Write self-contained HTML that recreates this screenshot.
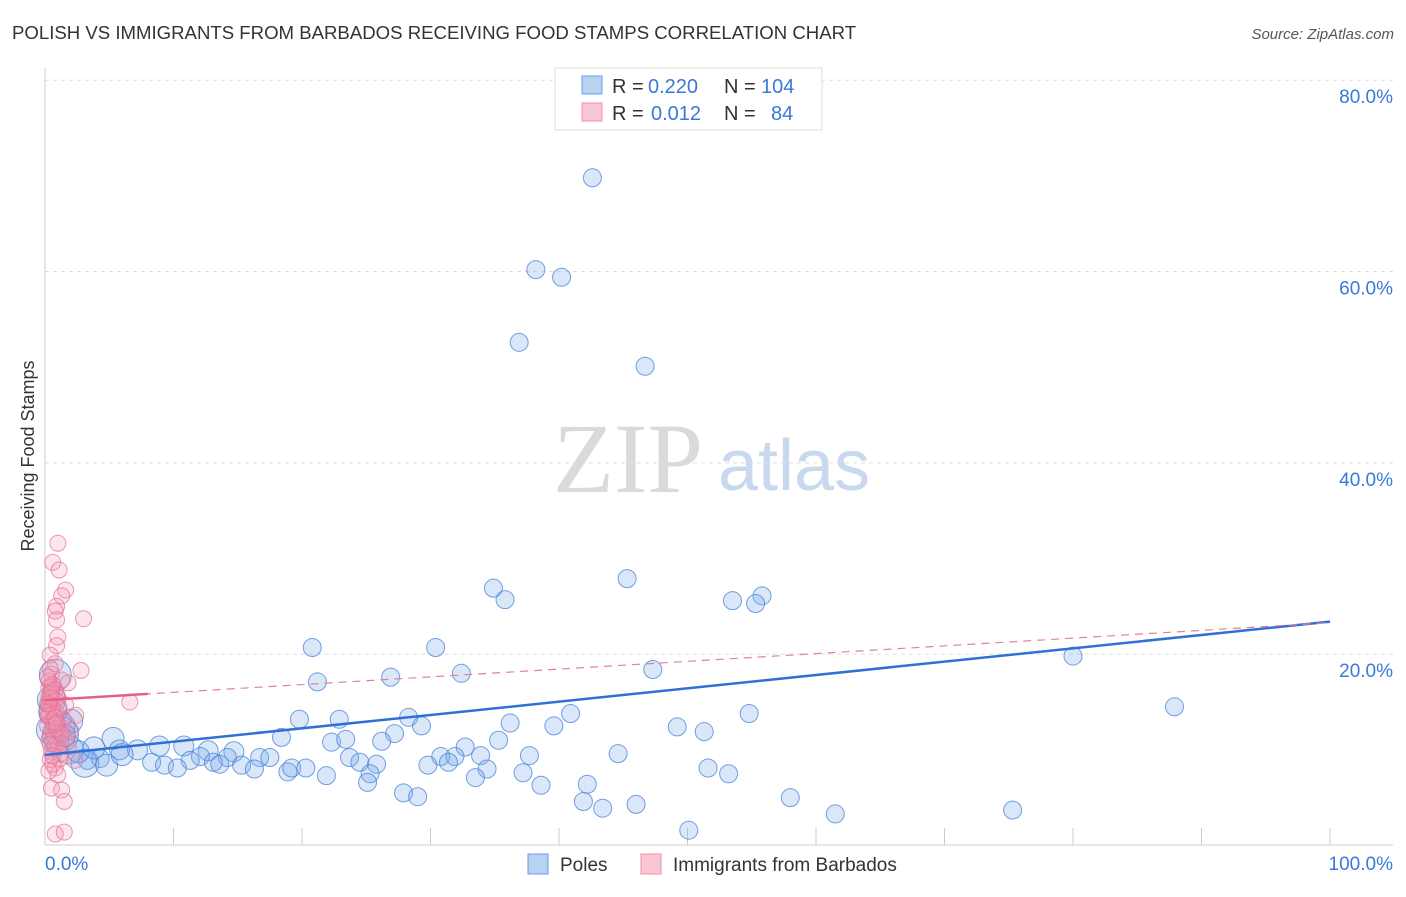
<!DOCTYPE html>
<html><head><meta charset="utf-8"><style>
body{margin:0;background:#fff;font-family:"Liberation Sans",sans-serif;}
svg text{font-family:"Liberation Sans",sans-serif;}
</style></head><body>
<svg id="chart" width="1406" height="892" xmlns="http://www.w3.org/2000/svg">
<text x="12" y="39" font-size="18.6" fill="#333">POLISH VS IMMIGRANTS FROM BARBADOS RECEIVING FOOD STAMPS CORRELATION CHART</text>
<text x="1394" y="39" font-size="15" fill="#555" text-anchor="end" font-style="italic">Source: ZipAtlas.com</text>
<text x="553" y="492" font-size="100" fill="#dadada" font-family="Liberation Serif" style="font-family:'Liberation Serif',serif">ZIP</text>
<text x="718" y="490" font-size="72" fill="#c8d8ee">atlas</text>
<text transform="translate(34,456) rotate(-90)" font-size="18" fill="#333" text-anchor="middle">Receiving Food Stamps</text>
<g id="grid"></g><g id="axes"></g><g id="points"></g><g id="trends"></g>
<g>
<rect x="555" y="68" width="267" height="62" fill="#fff" stroke="#ddd"/>
<rect x="582" y="76" width="20" height="18" fill="#b8d2f4" stroke="#6a9ee0"/>
<text x="612" y="93" font-size="20" fill="#333">R =</text>
<text x="648" y="93" font-size="20" fill="#3a78d8">0.220</text>
<text x="724" y="93" font-size="20" fill="#333">N =</text>
<text x="761" y="93" font-size="20" fill="#3a78d8">104</text>
<rect x="582" y="103" width="20" height="18" fill="#f9c6d4" stroke="#e890aa"/>
<text x="612" y="120" font-size="20" fill="#333">R =</text>
<text x="651" y="120" font-size="20" fill="#3a78d8">0.012</text>
<text x="724" y="120" font-size="20" fill="#333">N =</text>
<text x="771" y="120" font-size="20" fill="#3a78d8">84</text>
</g>
<g>
<rect x="528" y="854" width="20" height="20" fill="#b8d2f4" stroke="#6a9ee0"/>
<text x="560" y="871" font-size="19" fill="#333">Poles</text>
<rect x="641" y="854" width="20" height="20" fill="#f9c6d4" stroke="#e890aa"/>
<text x="673" y="871" font-size="19" fill="#333">Immigrants from Barbados</text>
</g>
</svg>
<script>
const yTicks=[20,40,60,80];
const xTickLabels=["0.0%","100.0%"];
const polesX=[42.6,38.2,40.2,36.9,46.7,45.3,34.9,35.8,53.5,55.8,55.3,20.8,30.4,80.0,21.2,26.9,32.4,47.3,87.9,54.8,40.9,28.3,19.8,22.9,29.3,36.2,39.6,49.2,51.3,18.4,27.2,22.3,23.4,26.2,35.3,32.7,5.3,8.9,10.8,12.7,14.7,5.8,7.2,30.8,31.9,33.9,37.7,44.6,23.7,24.5,25.8,16.7,17.5,14.2,12.1,11.3,3.3,4.3,8.3,9.3,10.3,13.1,13.6,15.3,16.3,18.9,19.2,20.3,21.9,25.3,25.1,29.8,31.4,34.4,33.5,37.2,38.6,42.2,51.6,53.2,27.9,29.0,41.9,43.4,46.0,58.0,61.5,75.3,50.1,1.2,1.9,3.1,4.8,0.5,0.8,0.5,2.0,6.0,0.6,1.4,2.6,0.9,1.5,3.8];
const polesY=[69.8,60.2,59.4,52.6,50.1,27.9,26.9,25.7,25.6,26.1,25.3,20.7,20.7,19.8,17.1,17.6,18.0,18.4,14.5,13.8,13.8,13.4,13.2,13.2,12.5,12.8,12.5,12.4,11.9,11.3,11.7,10.8,11.1,10.9,11.0,10.3,11.2,10.4,10.4,9.9,9.8,10.0,10.0,9.3,9.3,9.4,9.4,9.6,9.2,8.7,8.5,9.2,9.2,9.2,9.3,8.9,8.9,9.1,8.7,8.4,8.1,8.7,8.5,8.4,8.0,7.7,8.1,8.1,7.3,7.5,6.6,8.4,8.7,8.0,7.1,7.6,6.3,6.4,8.1,7.5,5.5,5.1,4.6,3.9,4.3,5.0,3.3,3.7,1.6,11.6,10.0,8.6,8.4,12.1,17.8,15.2,13.0,9.5,14.0,12.5,9.8,10.8,11.5,10.2];
const polesR=[9,9,9,9,9,9,9,9,9,9,9,9,9,9,9,9,9,9,9,9,9,9,9,9,9,9,9,9,9,9,9,9,9,9,9,9,11,10,10,10,10,10,10,9,9,9,9,9,9,9,9,9,9,9,9,9,9,9,9,9,9,9,9,9,9,9,9,9,9,9,9,9,9,9,9,9,9,9,9,9,9,9,9,9,9,9,9,9,9,18,14,14,11,15,16,14,12,11,14,12,11,12,11,11];
const barbX=[1.0,0.6,1.1,1.6,1.3,0.9,0.8,0.9,3.0,1.0,0.9,0.4,2.8,0.8,0.5,1.3,1.8,0.8,1.0,6.6,1.6,2.4,0.4,0.8,1.3,0.4,1.0,1.8,0.5,1.2,2.3,0.8,1.0,0.5,1.3,1.5,0.8,1.5,0.4,0.3,0.6,0.2,0.7,1.1,0.3,0.5,0.9,0.2,1.4,0.6,0.3,0.8,1.2,0.4,0.6,0.3,0.5,0.9,0.2,0.7,1.0,0.4,0.6,0.3,2.0,1.7,0.5,0.8,0.2,0.6,0.9,0.4,1.1,0.3,0.7,0.5,0.2,0.8,1.3,0.4,0.6,0.3,0.5,0.9];
const barbY=[31.6,29.6,28.8,26.7,26.1,25.0,24.5,23.6,23.7,21.8,20.9,19.9,18.3,19.0,17.9,17.3,17.0,16.3,15.5,15.0,14.7,13.6,14.0,12.9,12.3,11.4,10.8,10.3,9.8,9.1,8.9,8.1,7.4,6.0,5.8,4.6,1.2,1.4,15.0,16.5,14.2,13.5,12.8,11.8,17.2,16.0,15.8,14.8,13.2,12.0,11.0,10.5,9.6,18.5,16.8,15.5,14.5,13.8,12.5,11.5,10.2,9.0,8.5,7.8,12.0,11.2,16.2,15.2,14.0,13.0,12.2,15.8,14.4,13.6,12.6,16.6,17.6,13.4,11.6,10.6,9.4,14.8,15.4,12.8];
const X0=45,X1=1330,Y0=845.5,YPX=9.566;
const sx=v=>X0+(X1-X0)*v/100, sy=v=>Y0-v*YPX;
const NS="http://www.w3.org/2000/svg";
function mk(tag,attrs,parent){const e=document.createElementNS(NS,tag);for(const k in attrs)e.setAttribute(k,attrs[k]);document.getElementById(parent).appendChild(e);return e;}
yTicks.forEach(t=>{
 const l=mk('line',{x1:45,x2:1393,y1:sy(t),y2:sy(t),stroke:'#ddd','stroke-dasharray':'4,4'},'grid');
 
 
 const tx=mk('text',{x:1393,y:sy(t)+23,'font-size':19,fill:'#3a78d8','text-anchor':'end'},'grid');
 tx.textContent=t.toFixed(1)+'%';
 
 
});
const ax=mk('line',{x1:45,x2:45,y1:68,y2:845,stroke:'#ccc'},'axes');


const bx=mk('line',{x1:45,x2:1393,y1:845,y2:845,stroke:'#ccc'},'axes');


for(let i=1;i<=10;i++){const t=mk('line',{x1:sx(i*10),x2:sx(i*10),y1:828,y2:845,stroke:'#ccc'},'axes');
 
 }
[[0,'start',45],[100,'end',1393]].forEach((d,i)=>{const t=mk('text',{x:d[2],y:870,'font-size':19,fill:'#3a78d8','text-anchor':d[1]},'axes');t.textContent=xTickLabels[i];
 
 });
polesX.forEach((v,i)=>{const c=mk('circle',{cx:sx(v),cy:sy(polesY[i]),r:polesR[i],fill:'rgba(120,168,232,0.28)',stroke:'rgba(70,130,215,0.75)','stroke-width':1},'points');
 
 });
barbX.forEach((v,i)=>{const c=mk('circle',{cx:sx(v),cy:sy(barbY[i]),r:8,fill:'rgba(245,150,178,0.25)',stroke:'rgba(228,110,145,0.7)','stroke-width':1},'points');
 
 });
const polesTrend=[9.46,23.4], barbTrend=[15.2,23.3], barbSolidEnd=8;
const bt=mk('line',{x1:sx(0),y1:sy(polesTrend[0]),x2:sx(100),y2:sy(polesTrend[1]),stroke:'#2f6fd6','stroke-width':2.5},'trends');


const pd=mk('line',{x1:sx(0),y1:sy(barbTrend[0]),x2:sx(100),y2:sy(barbTrend[1]),stroke:'#e4809c','stroke-width':1.2,'stroke-dasharray':'8,6'},'trends');


const ye=barbTrend[0]+(barbTrend[1]-barbTrend[0])*barbSolidEnd/100;
const ps=mk('line',{x1:sx(0),y1:sy(barbTrend[0]),x2:sx(barbSolidEnd),y2:sy(ye),stroke:'#e4608a','stroke-width':2.5},'trends');


</script>
</body></html>
